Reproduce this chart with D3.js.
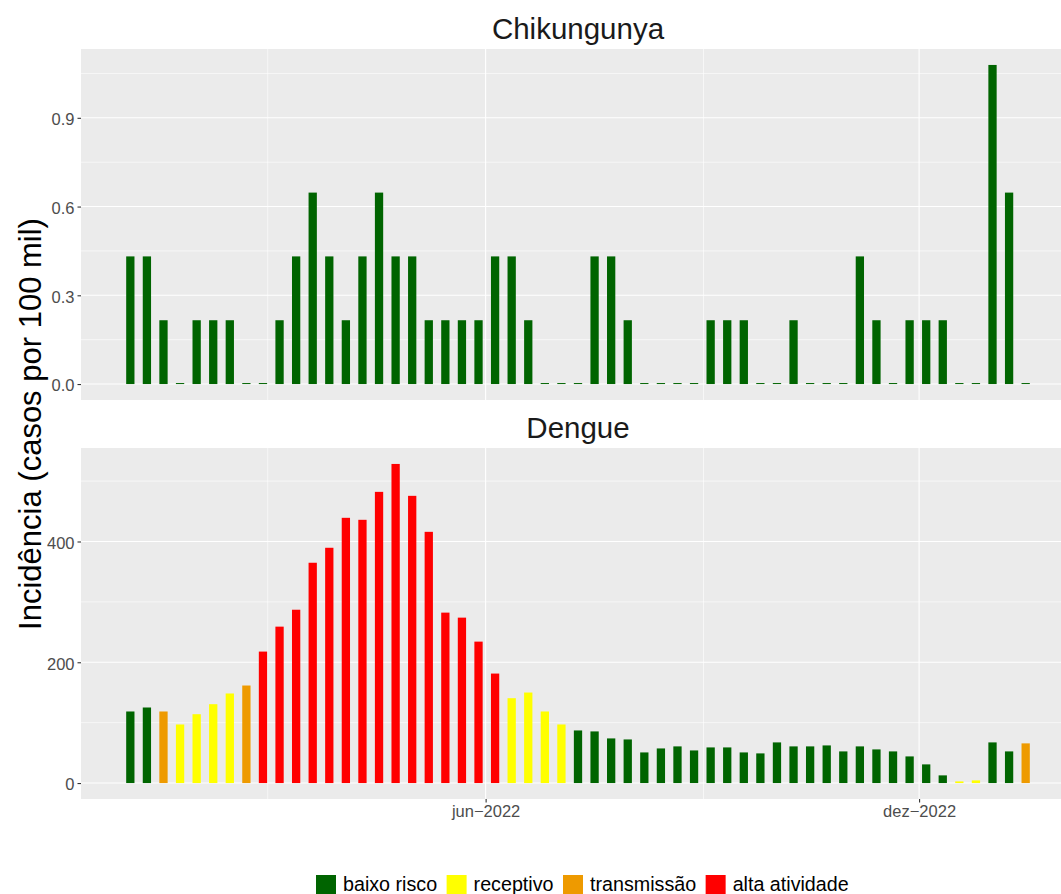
<!DOCTYPE html>
<html>
<head>
<meta charset="utf-8">
<script src="https://cdn.jsdelivr.net/npm/d3@7"></script>
<style>
  html, body { margin: 0; padding: 0; background: #fff; overflow: hidden; }
  svg { display: block; font-family: "Liberation Sans", Arial, sans-serif; }
</style>
</head>
<body>
<svg id="chart" width="1061" height="894"></svg>
<script>
// ---- data ----
const weeks = [
  "2022-01-02","2022-01-09","2022-01-16","2022-01-23","2022-01-30",
  "2022-02-06","2022-02-13","2022-02-20","2022-02-27",
  "2022-03-06","2022-03-13","2022-03-20","2022-03-27",
  "2022-04-03","2022-04-10","2022-04-17","2022-04-24",
  "2022-05-01","2022-05-08","2022-05-15","2022-05-22","2022-05-29",
  "2022-06-05","2022-06-12","2022-06-19","2022-06-26",
  "2022-07-03","2022-07-10","2022-07-17","2022-07-24","2022-07-31",
  "2022-08-07","2022-08-14","2022-08-21","2022-08-28",
  "2022-09-04","2022-09-11","2022-09-18","2022-09-25",
  "2022-10-02","2022-10-09","2022-10-16","2022-10-23","2022-10-30",
  "2022-11-06","2022-11-13","2022-11-20","2022-11-27",
  "2022-12-04","2022-12-11","2022-12-18","2022-12-25",
  "2023-01-01","2023-01-08","2023-01-15"
];

const chikungunya = [
  0.4315,0.4315,0.2157,0,0.2157,0.2157,0.2157,0,0,0.2157,
  0.4315,0.6472,0.4315,0.2157,0.4315,0.6472,0.4315,0.4315,0.2157,0.2157,
  0.2157,0.2157,0.4315,0.4315,0.2157,0,0,0,0.4315,0.4315,
  0.2157,0,0,0,0,0.2157,0.2157,0.2157,0,0,
  0.2157,0,0,0,0.4315,0.2157,0,0.2157,0.2157,0.2157,
  0,0,1.0787,0.6472,0
];
const chikungunyaLevel = weeks.map(() => "baixo risco");

const dengue = [
  118.5,125.1,118.5,97,114,130.6,148.3,161.5,217.7,259,
  287,364.8,389.6,439.2,435.9,482.2,528.4,475.6,416,282.2,
  273.9,234.2,181.3,140.5,149.9,118.5,97,87.1,85.5,73.9,
  72.2,50.7,57.3,60.7,54,59,59,50.7,49.1,67.3,
  60.7,60.7,62.3,52.4,60.7,55.7,52.4,44.1,30.9,12.7,
  2.7,4.4,67.3,52.4,65.7
];
const B = "baixo risco", R = "receptivo", T = "transmissão", A = "alta atividade";
const dengueLevel = [
  B,B,T,R,R,R,R,T,A,A,
  A,A,A,A,A,A,A,A,A,A,
  A,A,A,R,R,R,R,B,B,B,
  B,B,B,B,B,B,B,B,B,B,
  B,B,B,B,B,B,B,B,B,B,
  R,R,B,B,T
];

const levels = ["baixo risco","receptivo","transmissão","alta atividade"];
const levelColors = ["#006400","#FFFF00","#EE9A00","#FF0000"];

const chikTicks = [0, 0.3, 0.6, 0.9];
const chikMinor = [0.15, 0.45, 0.75, 1.05];
const dengueTicks = [0, 200, 400];
const dengueMinor = [100, 300, 500];
const xTickDates = ["2022-06-01","2022-12-01"];
const xMinorDates = ["2022-03-01","2022-09-01"];
const xTickLabels = ["jun\u22122022","dez\u22122022"];

const panels = [
  {title: "Chikungunya", values: chikungunya, level: chikungunyaLevel, ticks: chikTicks, minor: chikMinor, fmt: d3.format(".1f")},
  {title: "Dengue", values: dengue, level: dengueLevel, ticks: dengueTicks, minor: dengueMinor, fmt: d3.format("d")}
];

// ---- layout ----
const svg = d3.select("#chart");
const L = 81, Rgt = 1075;
const panelBoxes = [{top: 49, bottom: 400}, {top: 448, bottom: 799}];
const parse = d3.utcParse("%Y-%m-%d");
const dates = weeks.map(parse);
const DAY = 86400000;
const halfBar = 1.75 * DAY;
const dMin = +dates[0] - halfBar, dMax = +dates[dates.length - 1] + halfBar;
const padX = 0.05 * (dMax - dMin);
const x = d3.scaleUtc().domain([new Date(dMin - padX), new Date(dMax + padX)]).range([L, Rgt]);
const color = d3.scaleOrdinal().domain(levels).range(levelColors);

panels.forEach((p, k) => {
  const box = panelBoxes[k];
  const vmax = d3.max(p.values);
  const pad = 0.05 * vmax;
  const y = d3.scaleLinear().domain([-pad, vmax + pad]).range([box.bottom, box.top]);
  const g = svg.append("g");

  g.append("rect").attr("x", L).attr("y", box.top).attr("width", Rgt - L).attr("height", box.bottom - box.top).attr("fill", "#EBEBEB");

  // minor grid
  g.selectAll(".hmin").data(p.minor).join("line")
    .attr("x1", L).attr("x2", Rgt).attr("y1", d => y(d)).attr("y2", d => y(d))
    .attr("stroke", "#fff").attr("stroke-width", 0.6);
  g.selectAll(".vmin").data(xMinorDates.map(parse)).join("line")
    .attr("x1", d => x(d)).attr("x2", d => x(d)).attr("y1", box.top).attr("y2", box.bottom)
    .attr("stroke", "#fff").attr("stroke-width", 0.6);
  // major grid
  g.selectAll(".hmaj").data(p.ticks).join("line")
    .attr("x1", L).attr("x2", Rgt).attr("y1", d => y(d)).attr("y2", d => y(d))
    .attr("stroke", "#fff").attr("stroke-width", 1.1);
  g.selectAll(".vmaj").data(xTickDates.map(parse)).join("line")
    .attr("x1", d => x(d)).attr("x2", d => x(d)).attr("y1", box.top).attr("y2", box.bottom)
    .attr("stroke", "#fff").attr("stroke-width", 1.1);

  // bars
  const barW = x(new Date(+dates[0] + halfBar)) - x(new Date(+dates[0] - halfBar));
  g.selectAll(".bar").data(p.values).join("rect")
    .attr("x", (d, i) => x(dates[i]) - barW / 2)
    .attr("width", barW)
    .attr("y", d => Math.min(y(d), y(0) - 1))
    .attr("height", d => Math.max(y(0) - y(d), 1))
    .attr("fill", (d, i) => color(p.level[i]));

  // y axis
  const yAxis = d3.axisLeft(y).tickValues(p.ticks).tickFormat(p.fmt).tickSizeInner(3.5).tickSizeOuter(0).tickPadding(3);
  const ya = g.append("g").attr("transform", `translate(${L},0)`).call(yAxis);
  ya.select(".domain").remove();
  ya.selectAll(".tick line").attr("stroke", "#333333").attr("stroke-width", 1.1);
  ya.selectAll(".tick text").attr("fill", "#4D4D4D").attr("font-size", 16.5)
    .attr("font-family", "Liberation Sans, Arial, sans-serif").attr("dy", "0.42em");

  // strip title
  g.append("text").attr("x", (L + Rgt) / 2).attr("y", box.top - 10)
    .attr("text-anchor", "middle").attr("font-size", 29.5).attr("fill", "#1A1A1A")
    .text(p.title);

  if (k === panels.length - 1) {
    const xAxis = d3.axisBottom(x).tickValues(xTickDates.map(parse))
      .tickFormat((d, i) => xTickLabels[i]).tickSizeInner(3.5).tickSizeOuter(0).tickPadding(3);
    const xa = g.append("g").attr("transform", `translate(0,${box.bottom})`).call(xAxis);
    xa.select(".domain").remove();
    xa.selectAll(".tick line").attr("stroke", "#333333").attr("stroke-width", 1.1);
    xa.selectAll(".tick text").attr("fill", "#4D4D4D").attr("font-size", 16.5)
      .attr("font-family", "Liberation Sans, Arial, sans-serif").attr("dy", "0.71em");
  }
});

// y axis title
svg.append("text")
  .attr("transform", `translate(41,${(panelBoxes[0].top + panelBoxes[1].bottom) / 2}) rotate(-90)`)
  .attr("text-anchor", "middle").attr("font-size", 31).attr("fill", "#000")
  .text("Incidência (casos por 100 mil)");

// legend
const lg = svg.append("g");
let lx = 316;
const keyY = 875, keyS = 20;
levels.forEach((lv, i) => {
  lg.append("rect").attr("x", lx).attr("y", keyY).attr("width", keyS).attr("height", keyS).attr("fill", levelColors[i]);
  const t = lg.append("text").attr("x", lx + keyS + 7).attr("y", keyY + 16)
    .attr("font-size", 19.7).attr("fill", "#000").text(lv);
  const w = t.node().getComputedTextLength();
  lx = lx + keyS + 7 + w + 9.5;
});
</script>
</body>
</html>
